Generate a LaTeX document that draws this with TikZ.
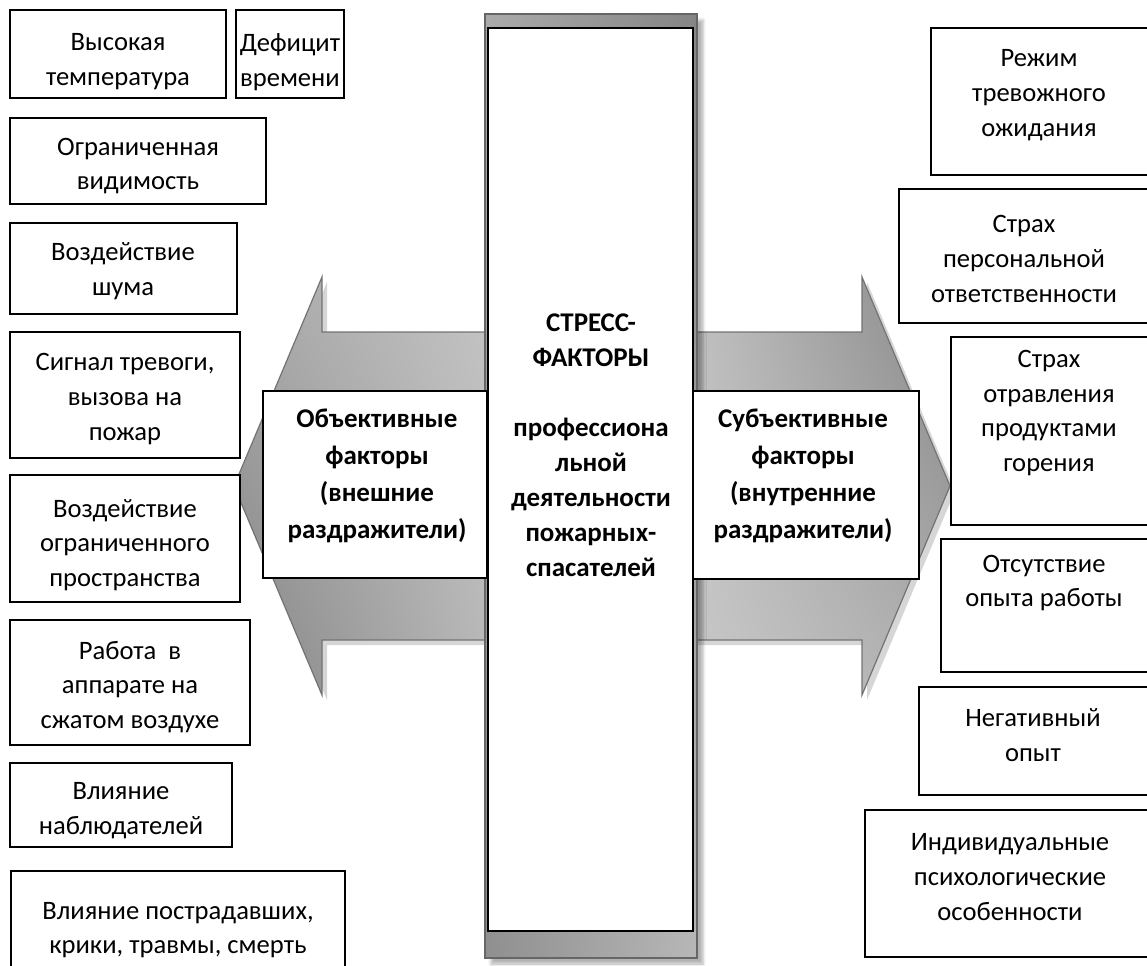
\documentclass[tikz,border=0pt]{standalone}
\usepackage{fontspec}
\setmainfont{Carlito}
\usetikzlibrary{fit,shadows.blur,shadings}
\definecolor{gA}{HTML}{A8A8A8}
\definecolor{gB}{HTML}{C4C4C4}
\definecolor{gC}{HTML}{848484}
\definecolor{gD}{HTML}{B8B8B8}
\definecolor{gE}{HTML}{C0C0C0}
\definecolor{gF}{HTML}{868686}
\definecolor{gG}{HTML}{C8C8C8}
\definecolor{gH}{HTML}{B0B0B0}
\begin{document}
\begin{tikzpicture}[x=0.5pt,y=-0.5pt,
  box/.style={draw=black, line width=0.8pt, fill=white, inner sep=0pt},
  midbox/.style={draw=black, line width=1.1pt, fill=white, inner sep=0pt},
  txt/.style={align=center, font=\fontsize{13.3}{17.4}\selectfont, inner sep=0pt},
  btxt/.style={align=center, font=\fontsize{13.5}{18.6}\selectfont\bfseries, inner sep=0pt},
  arr/.style={draw=black!55, line width=0.6pt, shade},
  arrshadow/.style={fill=black, opacity=0.16}
]
\useasboundingbox (0,0) rectangle (1147,965);
\clip (0,0) rectangle (1147,965);

% arrow shadows
\fill[arrshadow] (495,337) -- (327,337) -- (327,282) -- (239,491) -- (327,700) -- (327,645) -- (495,645) -- cycle;
\fill[arrshadow] (697,337) -- (867,337) -- (867,282) -- (955,491) -- (867,700) -- (867,645) -- (697,645) -- cycle;

% arrows
\path[arr, upper left=gA, upper right=gB, lower left=gC, lower right=gD]
  (490,332) -- (322,332) -- (322,277) -- (234,486) -- (322,695) -- (322,640) -- (490,640) -- cycle;
\path[arr, upper left=gE, upper right=gF, lower left=gG, lower right=gH]
  (692,332) -- (862,332) -- (862,277) -- (950,486) -- (862,695) -- (862,640) -- (692,640) -- cycle;

% central column frame
\path[shade, upper left=black!33, upper right=black!48, lower left=black!44, lower right=black!28,
  draw=black!60, line width=0.8pt,
  blur shadow={shadow xshift=3pt, shadow yshift=-3pt, shadow blur radius=1.5pt, shadow opacity=30}]
  (485,14) rectangle (697,958);

% middle boxes
\node[midbox, fit={(263,391) (487,578)}] (objbox) {};
\node[btxt] (objtxt) at (377,476) {Объективные\\факторы\\(внешние\\раздражители)};
\node[midbox, fit={(693,391) (919,579)}] (subbox) {};
\node[btxt] (subtxt) at (803,476) {Субъективные\\факторы\\(внутренние\\раздражители)};

% central box
\node[midbox, fit={(488,28) (693,931)}] (col) {};
\node[btxt, font=\fontsize{13.5}{17.5}\selectfont\bfseries] (coltxt) at (591,445)
  {СТРЕСС-\\ФАКТОРЫ\\[17.5pt]профессиона\\льной\\деятельности\\пожарных-\\спасателей};

% left boxes
\node[box, fit={(10,10) (226,98)}] (b1) {};
\node[txt] (t1) at (118,62) {Высокая\\температура};
\node[box, fit={(236,10) (344,98)}] (b2) {};
\node[txt] (t2) at (290,62) {Дефицит\\времени};
\node[box, fit={(10,118) (266,204)}] (b3) {};
\node[txt] (t3) at (138,166) {Ограниченная\\видимость};
\node[box, fit={(10,223) (237,314)}] (b4) {};
\node[txt] (t4) at (123,271) {Воздействие\\шума};
\node[box, fit={(10,332) (240,458)}] (b5) {};
\node[txt] (t5) at (125,399) {Сигнал тревоги,\\вызова на\\пожар};
\node[box, fit={(10,475) (240,602)}] (b6) {};
\node[txt] (t6) at (125,545) {Воздействие\\ограниченного\\пространства};
\node[box, fit={(10,620) (250,745)}] (b7) {};
\node[txt] (t7) at (130,687) {Работа\ \ в\\аппарате на\\сжатом воздухе};
\node[box, fit={(10,763) (232,847)}] (b8) {};
\node[txt] (t8) at (121,811) {Влияние\\наблюдателей};
\node[box, fit={(11,871) (345,990)}] (b9) {};
\node[txt] (t9) at (178,930) {Влияние пострадавших,\\крики, травмы, смерть};

% right boxes
\node[box, fit={(931,28) (1150,175)}] (r1) {};
\node[txt] (s1) at (1039,95) {Режим\\тревожного\\ожидания};
\node[box, fit={(899,189) (1150,323)}] (r2) {};
\node[txt] (s2) at (1024,259) {Страх\\персональной\\ответственности};
\node[box, fit={(951,337) (1150,525)}] (r3) {};
\node[txt] (s3) at (1049,413) {Страх\\отравления\\продуктами\\горения};
\node[box, fit={(941,539) (1150,672)}] (r4) {};
\node[txt] (s4) at (1044,583) {Отсутствие\\опыта работы};
\node[box, fit={(919,687) (1150,795)}] (r5) {};
\node[txt] (s5) at (1033,735) {Негативный\\опыт};
\node[box, fit={(865,810) (1160,957)}] (r6) {};
\node[txt] (s6) at (1010,877) {Индивидуальные\\психологические\\особенности};
\end{tikzpicture}
\end{document}
